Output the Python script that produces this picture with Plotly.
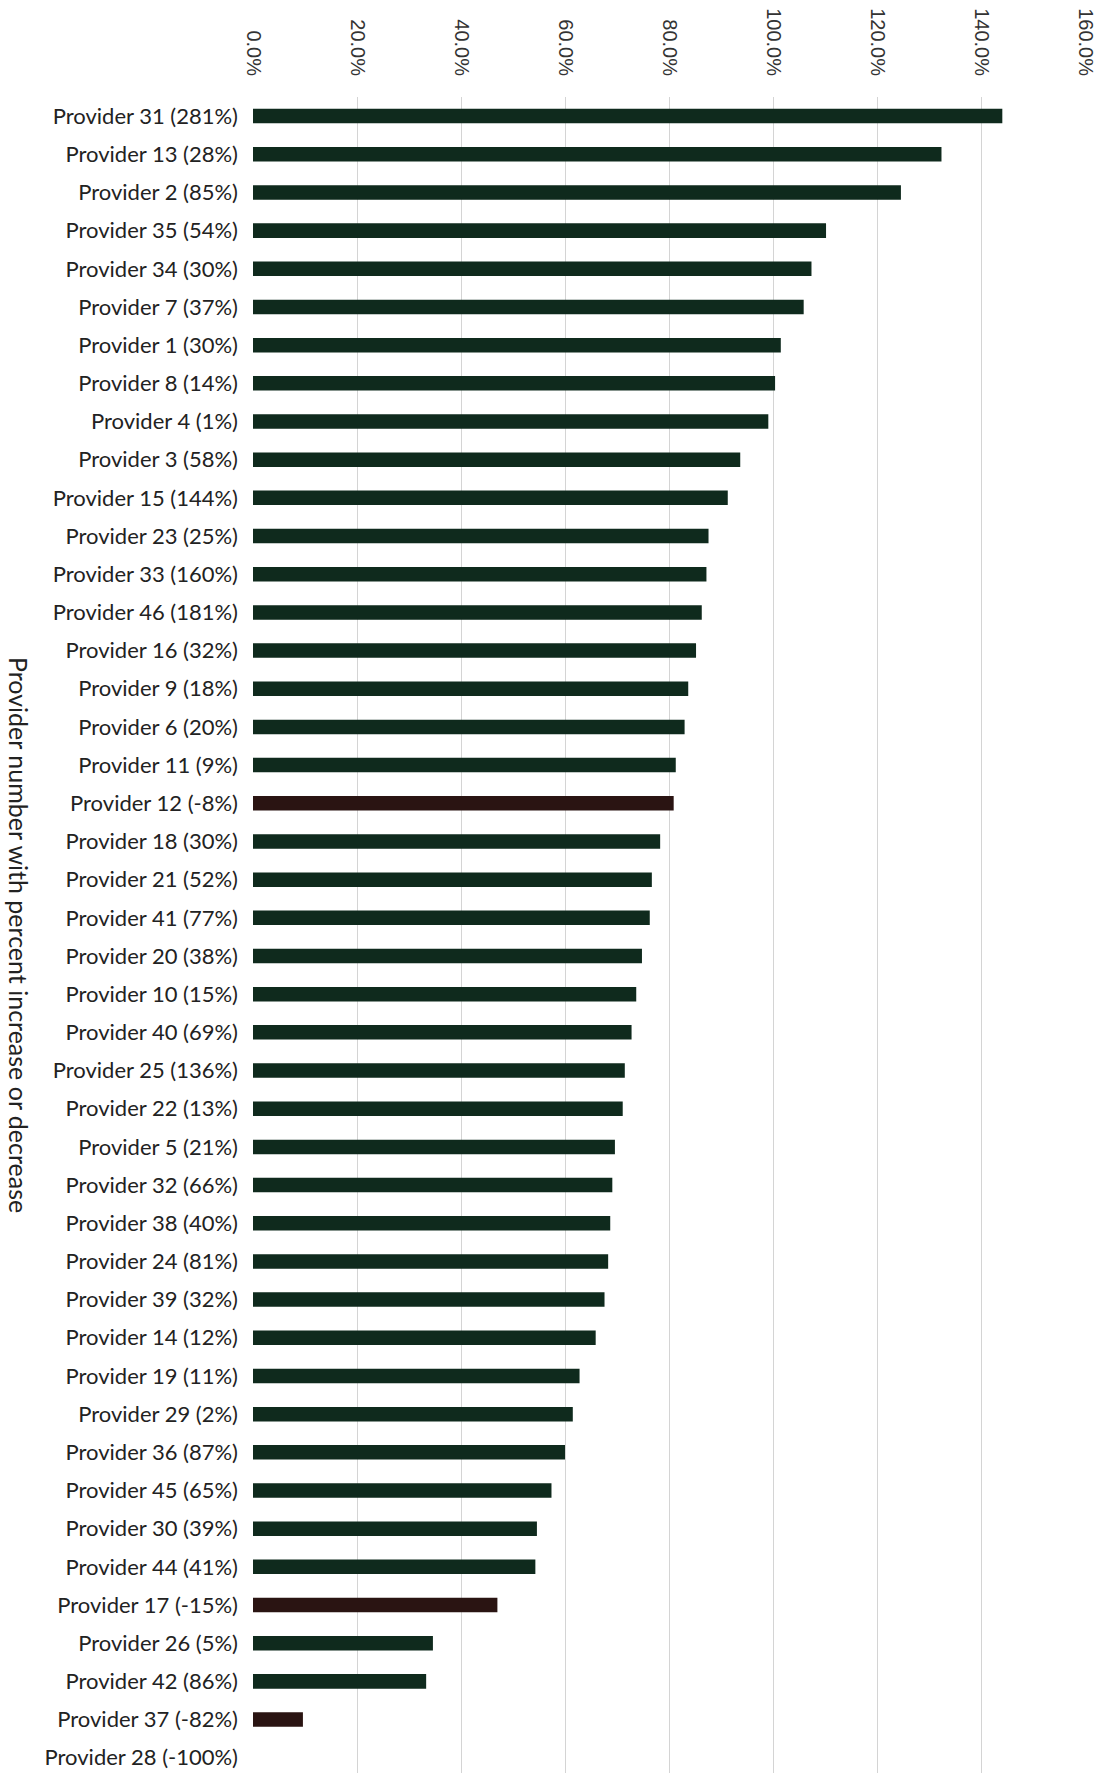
import plotly.graph_objects as go

providers = [31, 13, 2, 35, 34, 7, 1, 8, 4, 3, 15, 23, 33, 46, 16, 9, 6, 11, 12, 18,
             21, 41, 20, 10, 40, 25, 22, 5, 32, 38, 24, 39, 14, 19, 29, 36, 45, 30, 44,
             17, 26, 42, 37, 28]
pct_change = [281, 28, 85, 54, 30, 37, 30, 14, 1, 58, 144, 25, 160, 181, 32, 18, 20, 9, -8, 30,
              52, 77, 38, 15, 69, 136, 13, 21, 66, 40, 81, 32, 12, 11, 2, 87, 65, 39, 41,
              -15, 5, 86, -82, -100]
values = [144.1, 132.4, 124.6, 110.2, 107.4, 105.9, 101.5, 100.4, 99.1, 93.7, 91.3, 87.6, 87.2,
          86.3, 85.2, 83.7, 83.0, 81.3, 80.9, 78.3, 76.7, 76.3, 74.8, 73.7, 72.8, 71.5, 71.1,
          69.6, 69.1, 68.7, 68.3, 67.6, 65.9, 62.8, 61.5, 60.0, 57.4, 54.6, 54.3, 47.0, 34.6,
          33.3, 9.6, 0.0]
x_ticks = [0, 0.2, 0.4, 0.6, 0.8, 1.0, 1.2, 1.4, 1.6]

labels = [f"Provider {p} ({c}%)" for p, c in zip(providers, pct_change)]
colors = ["#2a1412" if c < 0 else "#0f2a1d" for c in pct_change]

fig = go.Figure(go.Bar(
    x=[v / 100 for v in values],
    y=labels,
    orientation="h",
    marker=dict(color=colors, line=dict(width=0)),
))

fig.update_layout(
    width=1107, height=1773,
    margin=dict(l=253, r=22, t=97, b=0),
    paper_bgcolor="white", plot_bgcolor="white",
    bargap=0.62,
    showlegend=False,
    xaxis=dict(
        side="top", range=[0, 1.6], tickvals=x_ticks, tickformat=".1%",
        tickangle=90, showgrid=True, gridcolor="#d4d4d4", gridwidth=1,
        zeroline=False, showline=False, ticks="", ticklabelstandoff=17,
        tickfont=dict(family="Liberation Sans", size=20, color="#333333"),
    ),
    yaxis=dict(
        type="category", range=[43.4, -0.5], showgrid=False, zeroline=False,
        showline=False, ticks="", ticklabelstandoff=14,
        tickfont=dict(family="Lato", size=22, color="#222222"),
    ),
    annotations=[dict(
        text="Provider number with percent increase or decrease",
        xref="paper", yref="paper", x=(2 - 253) / (1107 - 253 - 22), y=0.5,
        xanchor="left", yanchor="middle", showarrow=False, textangle=90,
        font=dict(family="Lato", size=25, color="#222222"),
    )],
)

fig.write_html("out.html")
